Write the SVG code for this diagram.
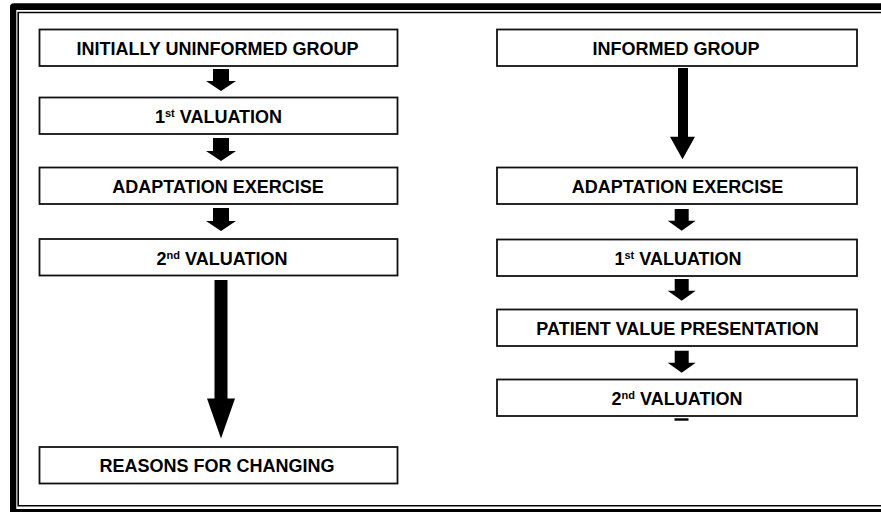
<svg xmlns="http://www.w3.org/2000/svg" width="881" height="512" viewBox="0 0 881 512">
  <style>
    .box { fill: #ffffff; stroke: #111111; stroke-width: 1.8; }
    .lbl { font-family: "Liberation Sans", Arial, sans-serif; font-weight: bold; font-size: 18px; fill: #000000; text-anchor: middle; }
    .sup { font-size: 11px; }
    .arrow { fill: #000000; stroke: none; }
    .frame { fill: #000000; stroke: none; }
    .thin { stroke: #000000; stroke-width: 1.6; fill: none; }
  </style>
  <rect x="0" y="0" width="881" height="512" fill="#ffffff"/>
  <g id="frame">
    <path class="frame" d="M10,512 L10,7 Q10,3.3 14,3.3 L881,3.3 L881,10 L16.3,10 L16.3,512 Z"/>
    <rect class="frame" x="10" y="509" width="871" height="3"/>
    <path class="thin" d="M881,12.5 L18.2,12.5 L18.2,505.7 L881,505.7"/>
  </g>
  <g id="connectors">
    <!-- left column -->
    <polygon class="arrow" points="213,69 229,69 229,81 236,81 221,91 206,81 213,81"/>
    <polygon class="arrow" points="213,138 229,138 229,151 236,151 221,161 206,151 213,151"/>
    <polygon class="arrow" points="213,208 229,208 229,221 236,221 221,231 206,221 213,221"/>
    <polygon class="arrow" points="214.5,280 227.5,280 227.5,398.5 235,398.5 221,438.5 207,398.5 214.5,398.5"/>
    <!-- right column -->
    <polygon class="arrow" points="678,68 688,68 688,136.7 695,136.7 682.5,159.3 670,136.7 678,136.7"/>
    <polygon class="arrow" points="674.7,209 688.7,209 688.7,220.7 695.7,220.7 681.7,230.7 667.7,220.7 674.7,220.7"/>
    <polygon class="arrow" points="674.7,279 688.7,279 688.7,290.7 695.7,290.7 681.7,300.7 667.7,290.7 674.7,290.7"/>
    <polygon class="arrow" points="674.7,350.7 688.7,350.7 688.7,362.7 695.7,362.7 681.7,372.7 667.7,362.7 674.7,362.7"/>
    <rect class="arrow" x="674.5" y="418.3" width="14" height="2.4"/>
  </g>
  <g id="node-initially-uninformed">
    <rect class="box" x="39.5" y="29.5" width="358" height="36.5"/>
    <text class="lbl" x="217.5" y="55">INITIALLY UNINFORMED GROUP</text>
  </g>
  <g id="node-left-1st-valuation">
    <rect class="box" x="39.5" y="97.5" width="358" height="36.5"/>
    <text class="lbl" x="218.5" y="123">1<tspan class="sup" dy="-6">st</tspan><tspan dy="6"> VALUATION</tspan></text>
  </g>
  <g id="node-left-adaptation">
    <rect class="box" x="39.5" y="167.5" width="358" height="36.5"/>
    <text class="lbl" x="218" y="193">ADAPTATION EXERCISE</text>
  </g>
  <g id="node-left-2nd-valuation">
    <rect class="box" x="39.5" y="239" width="358" height="36.5"/>
    <text class="lbl" x="222" y="264.5">2<tspan class="sup" dy="-6">nd</tspan><tspan dy="6"> VALUATION</tspan></text>
  </g>
  <g id="node-reasons">
    <rect class="box" x="39.5" y="447" width="358" height="36.5"/>
    <text class="lbl" x="217" y="472">REASONS FOR CHANGING</text>
  </g>
  <g id="node-informed">
    <rect class="box" x="497" y="29.5" width="360" height="36.5"/>
    <text class="lbl" x="676" y="55">INFORMED GROUP</text>
  </g>
  <g id="node-right-adaptation">
    <rect class="box" x="497" y="167.5" width="360" height="36.5"/>
    <text class="lbl" x="677.5" y="193">ADAPTATION EXERCISE</text>
  </g>
  <g id="node-right-1st-valuation">
    <rect class="box" x="497" y="239.5" width="360" height="36.5"/>
    <text class="lbl" x="678" y="265">1<tspan class="sup" dy="-6">st</tspan><tspan dy="6"> VALUATION</tspan></text>
  </g>
  <g id="node-patient-value">
    <rect class="box" x="497" y="309.5" width="360" height="36.5"/>
    <text class="lbl" x="677.5" y="335">PATIENT VALUE PRESENTATION</text>
  </g>
  <g id="node-right-2nd-valuation">
    <rect class="box" x="497" y="379.5" width="360" height="36.5"/>
    <text class="lbl" x="677" y="405">2<tspan class="sup" dy="-6">nd</tspan><tspan dy="6"> VALUATION</tspan></text>
  </g>
</svg>
